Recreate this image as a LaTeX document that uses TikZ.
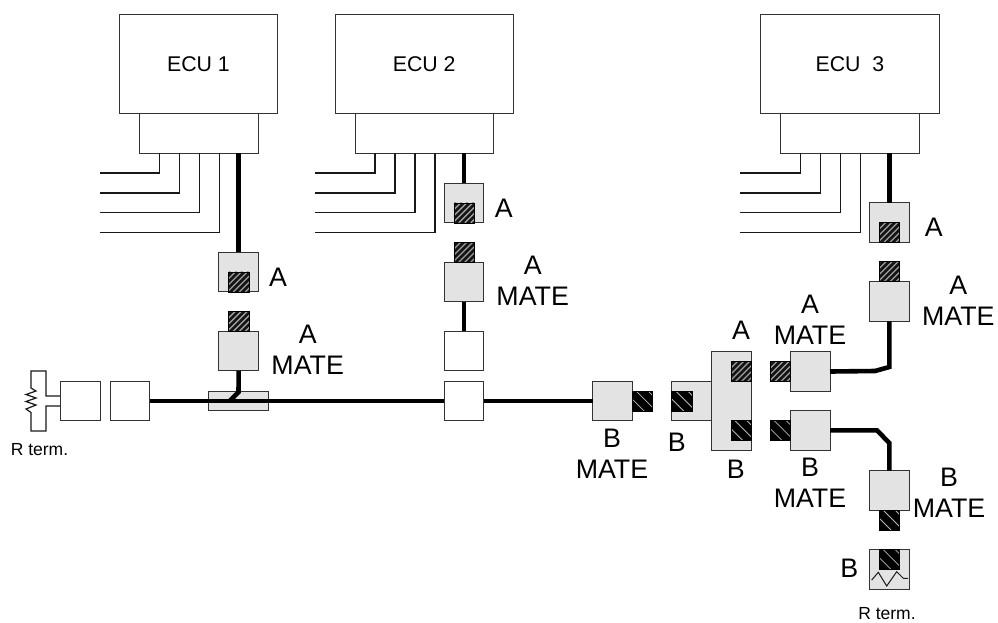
\documentclass[tikz,border=0pt]{standalone}
\usepackage{fontspec}
\setmainfont{Liberation Sans}
\usetikzlibrary{calc}
\newcommand{\hatchfillA}{%
  \foreach \k in {-25,-19,...,24}
    \draw[line width=1.3pt,draw=white!62!black]
      ([xshift=\k pt]path picture bounding box.south west) -- ++(24pt,24pt);}
\newcommand{\hatchfillB}{%
  \foreach \k in {-20,-8,4,16}
    \draw[line width=0.8pt,draw=white!72!black]
      ([xshift=\k pt]path picture bounding box.north west) -- ++(24pt,-24pt);}
\tikzset{
  x=1pt,y=-1pt,
  boxbase/.style={draw=black!80,line width=1pt,inner sep=0pt,outer sep=0pt,anchor=center},
  plainbox/.style={boxbase,fill=white,minimum width=39.6pt,minimum height=39.6pt},
  greybox/.style={boxbase,fill=black!11,minimum width=39.6pt,minimum height=39.6pt},
  ecubox/.style={boxbase,fill=white,font=\fontsize{21.3}{21}\selectfont},
  hatchA/.style={draw=black,line width=.6pt,inner sep=0pt,outer sep=0pt,fill=black!92,minimum width=20.5pt,minimum height=20pt,path picture={\hatchfillA}},
  hatchB/.style={draw=black,line width=.6pt,inner sep=0pt,outer sep=0pt,fill=black,minimum width=20.5pt,minimum height=20pt,path picture={\hatchfillB}},
  bus/.style={line width=4.6pt,draw=black,line join=miter},
  wire/.style={line width=1.2pt,draw=black!90},
  lbl/.style={font=\fontsize{26.8}{31}\selectfont,align=center,inner sep=0pt,text=black},
  small/.style={font=\fontsize{17.5}{20}\selectfont,inner sep=0pt,text=black}
}
\begin{document}
\begin{tikzpicture}
\useasboundingbox (0,0) rectangle (998,622);
% ECU boxes
\node[ecubox,minimum width=158.4pt,minimum height=99.4pt] (ecuA) at (198.5,64) {ECU 1};
\node[ecubox,minimum width=119pt,minimum height=39.6pt] (conA) at (198.8,133.5) {};
\node[ecubox,minimum width=178.3pt,minimum height=99.4pt] (ecuB) at (424.2,64) {ECU 2};
\node[ecubox,minimum width=138.3pt,minimum height=39.6pt] (conB) at (424.2,133.5) {};
\node[ecubox,minimum width=178.3pt,minimum height=99.4pt] (ecuC) at (849.9,64) {ECU\ \ 3};
\node[ecubox,minimum width=138.6pt,minimum height=39.6pt] (conC) at (850,133.5) {};
% thin wires
\foreach \con/\fx in {conA/100,conB/315,conC/740}{
  \foreach \dx/\wy in {20/173,40/193,60/212.7,80/232.5}{
    \coordinate (free) at (\fx,\wy);
    \draw[wire] ([xshift=\dx pt]\con.south west) |- (free);
  }
}
% ECU 1 branch
\node[greybox] (aA) at (238.7,272) {};
\node[hatchA,anchor=south] (aAh) at (aA.south) {};
\node[greybox] (aAm) at (238.7,351) {};
\node[hatchA,anchor=south] (aAmh) at (aAm.north) {};
\node[lbl] (lA1) at (278,277) {A};
\node[lbl] (lA2) at (307.7,350) {A\\MATE};
\draw[bus] (aA.north |- conA.south) -- (aA.north);
% backbone
\node[plainbox] (wA) at (80.2,401) {};
\node[plainbox] (wB) at (130,401) {};
\node[boxbase,fill=black!11,minimum width=59.6pt,minimum height=19.4pt] (tap) at (238.5,401) {};
\node[plainbox] (wC) at (464.1,351) {};
\node[plainbox] (wD) at (464.1,401) {};
\coordinate (tapA) at (238.5,392);
\coordinate (tapB) at (229.5,401);
\draw[bus] (wB.east) -- (wD.west);
\draw[bus] (aAm.south) -- (tapA) -- (tapB);
% ECU 2 branch
\node[greybox] (bA) at (464.1,203) {};
\node[hatchA,anchor=south] (bAh) at (bA.south) {};
\node[greybox] (bAm) at (464.1,282) {};
\node[hatchA,anchor=south] (bAmh) at (bAm.north) {};
\node[lbl] (lB1) at (503.7,208) {A};
\node[lbl] (lB2) at (532.7,281) {A\\MATE};
\draw[bus] (bA.north |- conB.south) -- (bA.north);
\draw[bus] (bAm.south) -- (wC.north);
% B connectors centre
\node[greybox] (cM) at (612.3,401) {};
\node[hatchB,anchor=west] (cMh) at (cM.east) {};
\draw[bus] (wD.east) -- (cM.west);
\node[lbl] (lC1) at (612,453.5) {B\\MATE};
\node[greybox] (cF) at (691.5,401) {};
\node[hatchB,anchor=west] (cFh) at (cF.west) {};
\node[lbl] (lC2) at (676.7,442.7) {B};
\node[boxbase,fill=black!11,minimum width=40pt,minimum height=98.6pt] (hub) at (731.3,401) {};
\node[hatchA,anchor=east] (hubA) at (751.3,371.2) {};
\node[hatchB,anchor=east] (hubB) at (751.3,430.5) {};
\node[lbl] (lH1) at (741,330) {A};
\node[lbl] (lH2) at (735.7,469) {B};
% right mates
\node[greybox] (dA) at (810.2,371.5) {};
\node[hatchA,anchor=east] (dAh) at (dA.west) {};
\node[greybox] (dB) at (810.2,430.3) {};
\node[hatchB,anchor=east] (dBh) at (dB.west) {};
\node[lbl] (lD1) at (810,320) {A\\MATE};
\node[lbl] (lD2) at (810,482.5) {B\\MATE};
% ECU 3 branch
\node[greybox] (eA) at (889.3,222.4) {};
\node[hatchA,anchor=south] (eAh) at (eA.south) {};
\node[greybox] (eAm) at (889.3,301.5) {};
\node[hatchA,anchor=south] (eAmh) at (eAm.north) {};
\node[lbl] (lE1) at (933.7,227.7) {A};
\node[lbl] (lE2) at (958.3,300.5) {A\\MATE};
\draw[bus] (eA.north |- conC.south) -- (eA.north);
\coordinate (bendA) at (875,371);
\coordinate (bendB) at (889.3,367);
\draw[bus] (dA.east) -- (bendA) -- (bendB) -- (eAm.south);
% lower B branch
\node[greybox] (fM) at (889.3,490.3) {};
\node[hatchB,anchor=north] (fMh) at (fM.south) {};
\coordinate (bendC) at (877,430.3);
\coordinate (bendD) at (889.3,443);
\draw[bus] (dB.east) -- (bendC) -- (bendD) -- (fM.north);
\node[lbl] (lF1) at (949,492.8) {B\\MATE};
% resistor box
\node[greybox] (gR) at (889.3,569.2) {};
\node[hatchB,anchor=north] (gRh) at (gR.north) {};
\coordinate (z1) at (871.7,580);
\coordinate (z2) at (878.3,572.3);
\coordinate (z3) at (886.7,586);
\coordinate (z4) at (896.7,571.7);
\coordinate (z5) at (903.3,578.3);
\coordinate (z6) at (908,578.3);
\draw[line width=1pt,draw=black!90] (z1) -- (z2) -- (z3) -- (z4) -- (z5) -- (z6);
\node[lbl] (lG) at (849.3,568) {B};
\node[small] (rtB) at (887,613.5) {R term.};
% left terminator
\coordinate (t1) at (46,396);
\coordinate (t2) at (46,371);
\coordinate (t3) at (31,371);
\coordinate (t4) at (31,388);
\coordinate (t5) at (36,391);
\coordinate (t6) at (26,394.5);
\coordinate (t7) at (36,398);
\coordinate (t8) at (26,401.5);
\coordinate (t9) at (36,405);
\coordinate (t10) at (26,409);
\coordinate (t11) at (31,412.5);
\coordinate (t12) at (31,431);
\coordinate (t13) at (46,431);
\coordinate (t14) at (46,406);
\draw[wire,line join=miter] (wA.west |- t1) -- (t1) -- (t2) -- (t3) -- (t4) -- (t5) -- (t6) -- (t7) -- (t8) -- (t9) -- (t10) -- (t11) -- (t12) -- (t13) -- (t14) -- (wA.west |- t14);
\node[small] (rtA) at (39.5,450) {R term.};
\end{tikzpicture}
\end{document}
